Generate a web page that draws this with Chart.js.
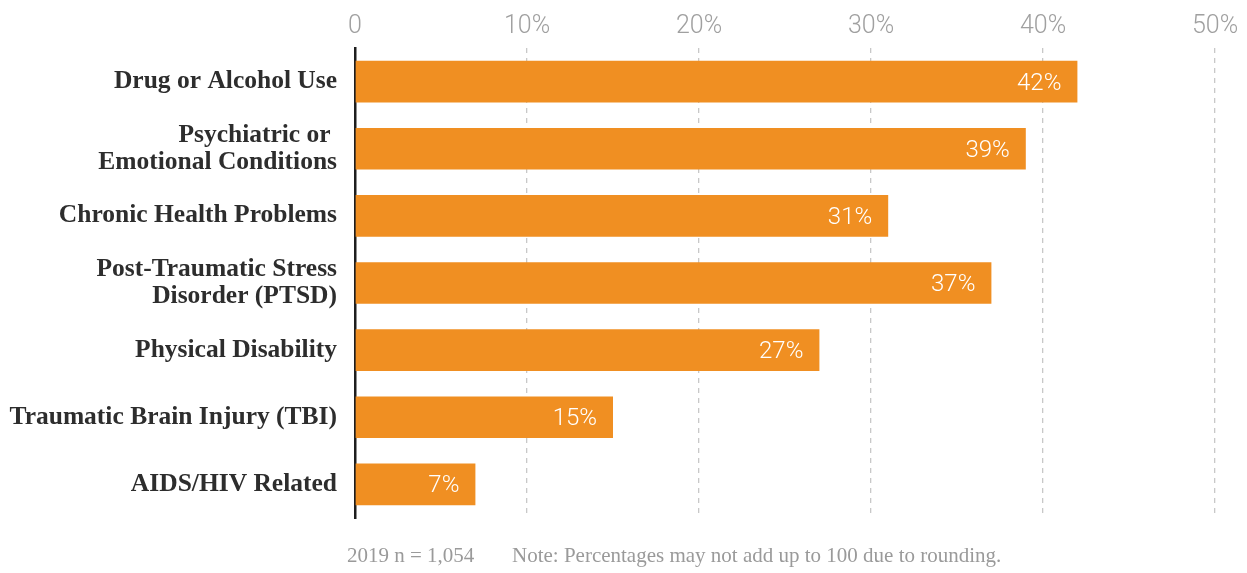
<!DOCTYPE html>
<html>
<head>
<meta charset="utf-8">
<script src="https://cdn.jsdelivr.net/npm/chart.js@4/dist/chart.umd.min.js"></script>
<style>
  html, body { margin: 0; padding: 0; background: #fff; }
  #wrap { position: relative; width: 1247px; height: 573px; }
  .foot {
    position: absolute; top: 543px;
    font-family: "Liberation Serif", serif;
    font-size: 21px; color: #9a9a9a; white-space: nowrap;
  }
</style>
</head>
<body>
<div id="wrap">
  <canvas id="chart" width="1247" height="573"></canvas>
  <div class="foot" style="left:347px">2019 n = 1,054</div>
  <div class="foot" style="left:512px">Note: Percentages may not add up to 100 due to rounding.</div>
</div>
<script>
const categories = [
  "Drug or Alcohol Use",
  ["Psychiatric or ", "Emotional Conditions"],
  "Chronic Health Problems",
  ["Post-Traumatic Stress", "Disorder (PTSD)"],
  "Physical Disability",
  "Traumatic Brain Injury (TBI)",
  "AIDS/HIV Related"
];
const shares = [42, 39, 31, 37, 27, 15, 7];
const tickLabels = ["0", "10%", "20%", "30%", "40%", "50%"];

const orange = "#f08f22";

// white value text at the end of each bar
const barValues = {
  id: "barValues",
  afterDatasetsDraw(chart) {
    const ctx = chart.ctx;
    const meta = chart.getDatasetMeta(0);
    ctx.save();
    ctx.fillStyle = "#fff";
    ctx.font = "300 24px Roboto, Lato, sans-serif";
    ctx.textAlign = "right";
    ctx.textBaseline = "middle";
    meta.data.forEach((bar, i) => {
      ctx.fillText(shares[i] + "%", bar.x - 16, bar.y + 2);
    });
    ctx.restore();
  }
};

const ctx = document.getElementById("chart").getContext("2d");
const chart = new Chart(ctx, {
  type: "bar",
  data: {
    labels: categories,
    datasets: [{
      data: shares,
      backgroundColor: orange,
      borderWidth: 0,
      barPercentage: 0.62,
      categoryPercentage: 1
    }]
  },
  options: {
    indexAxis: "y",
    responsive: false,
    animation: false,
    layout: { padding: { top: 0, right: 32, bottom: 55, left: 0 } },
    plugins: { legend: { display: false }, tooltip: { enabled: false } },
    scales: {
      x: {
        position: "top",
        min: 0,
        max: 50,
        afterFit(scale) {
          scale.height = 48;
          scale.paddingRight = 0;
        },
        ticks: {
          stepSize: 10,
          padding: 6,
          color: "#a0a0a0",
          font: { family: "Roboto, Lato, sans-serif", weight: 300, size: 25 },
          callback: (v) => tickLabels[v / 10]
        },
        grid: {
          drawTicks: false,
          color: (c) => c.tick && c.tick.value === 0 ? "rgba(0,0,0,0)" : "#c8c8c8",
          lineWidth: 1.3
        },
        border: { display: false, dash: [5, 5] }
      },
      y: {
        afterFit(scale) { scale.width = 355; },
        ticks: {
          padding: 18,
          color: "#2d2d2d",
          font: { family: "'Liberation Serif', serif", weight: "bold", size: 25.5, lineHeight: 1.06 }
        },
        grid: { display: false, drawTicks: false },
        border: { display: true, color: "#1e1e1e", width: 2.5 }
      }
    }
  },
  plugins: [barValues]
});
</script>
</body>
</html>
